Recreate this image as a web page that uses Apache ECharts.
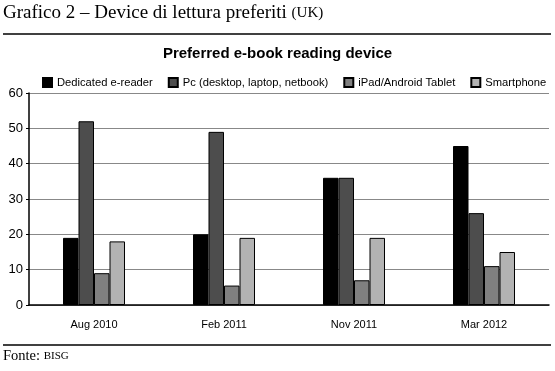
<!DOCTYPE html>
<html><head><meta charset="utf-8">
<script src="https://cdn.jsdelivr.net/npm/echarts@6/dist/echarts.min.js"></script>
<style>html,body{margin:0;padding:0;background:#fff}#c{width:555px;height:371px}</style>
</head><body><div id="c"></div>
<script>
const categories = ['Aug 2010', 'Feb 2011', 'Nov 2011', 'Mar 2012'];
const seriesNames = ['Dedicated e-reader', 'Pc (desktop, laptop, netbook)', 'iPad/Android Tablet', 'Smartphone'];
const dedicated = [19, 20, 36, 45];
const pc = [52, 49, 36, 26];
const tablet = [9, 5.5, 7, 11];
const smartphone = [18, 19, 19, 15];
const yTicks = [0, 10, 20, 30, 40, 50, 60];

const colors = ['#000000', '#4d4d4d', '#808080', '#b3b3b3'];
const values = [dedicated, pc, tablet, smartphone];
const chart = echarts.init(document.getElementById('c'));
chart.setOption({
  animation: false,
  color: colors,
  title: {
    text: 'Preferred e-book reading device', left: 'center', top: 41,
    textStyle: { fontFamily: 'Liberation Sans', fontSize: 15, fontWeight: 'bold', color: '#000' }
  },
  legend: {
    top: 77, left: 42, width: 513, padding: 0, itemWidth: 9, itemHeight: 9, itemGap: 15,
    textStyle: { fontFamily: 'Liberation Sans', fontSize: 11.2, color: '#000' },
    data: seriesNames.map(n => ({ name: n, icon: 'rect' }))
  },
  grid: { left: 29, right: 6, top: 93, bottom: 66 },
  xAxis: {
    type: 'category', data: categories,
    axisLine: { lineStyle: { color: '#000', width: 1.5 } },
    axisTick: { show: false },
    axisLabel: { fontFamily: 'Liberation Sans', fontSize: 11, color: '#000', margin: 14 }
  },
  yAxis: {
    type: 'value', min: yTicks[0], max: yTicks[yTicks.length - 1], interval: 10,
    axisLine: { show: true, lineStyle: { color: '#000', width: 1.5 } },
    axisTick: { show: true, length: 3, lineStyle: { color: '#000' } },
    splitLine: { lineStyle: { color: '#888', width: 1 } },
    axisLabel: { fontFamily: 'Liberation Sans', fontSize: 13, color: '#000', margin: 6 }
  },
  series: seriesNames.map((n, i) => ({
    name: n, type: 'bar', data: values[i],
    barWidth: 15.5, barGap: '0%',
    itemStyle: { color: colors[i], borderColor: '#000', borderWidth: 1 }
  })),
  graphic: [
    { type: 'text', left: 3, top: 4, style: {
      text: '{a|Grafico 2 – Device di lettura preferiti }{b|(UK)}',
      rich: {
        a: { fontFamily: 'Liberation Serif', fontSize: 19, color: '#000' },
        b: { fontFamily: 'Liberation Serif', fontSize: 15, color: '#000' }
      } } },
    { type: 'line', shape: { x1: 3, y1: 34, x2: 551, y2: 34 }, style: { stroke: '#000', lineWidth: 1.5 } },
    { type: 'line', shape: { x1: 3, y1: 345, x2: 551, y2: 345 }, style: { stroke: '#000', lineWidth: 1.5 } },
    { type: 'text', left: 3, top: 349, style: {
      text: '{a|Fonte: }{b|BISG}',
      rich: {
        a: { fontFamily: 'Liberation Serif', fontSize: 14.5, color: '#000' },
        b: { fontFamily: 'Liberation Serif', fontSize: 11, color: '#000' }
      } } }
  ]
});
</script></body></html>
